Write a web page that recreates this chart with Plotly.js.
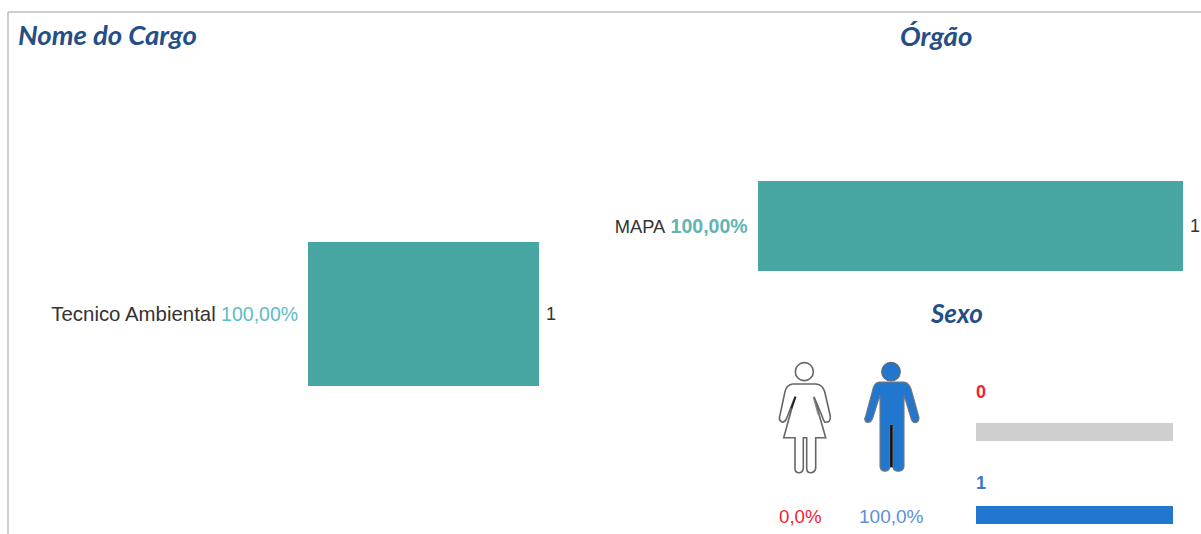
<!DOCTYPE html>
<html><head><meta charset="utf-8">
<script src="https://cdn.plot.ly/plotly-3.0.1.min.js"></script>
<style>html,body{margin:0;padding:0;background:#fff;overflow:hidden}#c{width:1201px;height:534px}</style>
</head><body><div id="c"></div>
<script>
const W = 1201, H = 534;
const cargoCats = ['Tecnico Ambiental'];
const cargoPct = ['100,00%'];
const cargoVals = [1];
const orgaoCats = ['MAPA'];
const orgaoPct = ['100,00%'];
const orgaoVals = [1];
const sexoCats = ['Feminino', 'Masculino'];
const sexoVals = [0, 1];
const sexoPct = ['0,0%', '100,0%'];
const sexoTrack = [1, 1];

const px = (v, total) => v / total;
const dx = (a, b) => [px(a, W), px(b, W)];
const dy = (top, bottom) => [1 - px(bottom, H), 1 - px(top, H)];
const teal = '#47A5A2', blue = '#2176CE', gray = '#CFCFCF', red = '#F5212F', navy = '#234E86';
const base = 'Liberation Sans, Arial, sans-serif';

const data = [
  {type: 'bar', orientation: 'h', y: cargoCats.map((c, i) => `<span style="font-size:20.4px">${c}</span> <span style="color:#5DBCC6">${cargoPct[i]}</span>`),
   x: cargoVals, marker: {color: teal}, width: 1, xaxis: 'x', yaxis: 'y', hoverinfo: 'skip'},
  {type: 'bar', orientation: 'h', y: orgaoCats.map((c, i) => `<span style="font-size:18.3px">${c}</span> <b style="color:#62B4B3">${orgaoPct[i]}</b>`),
   x: orgaoVals, marker: {color: teal}, width: 1, xaxis: 'x2', yaxis: 'y2', hoverinfo: 'skip'},
  {type: 'bar', orientation: 'h', y: sexoCats, x: sexoTrack, marker: {color: gray}, width: 0.217,
   xaxis: 'x3', yaxis: 'y3', hoverinfo: 'skip'},
  {type: 'bar', orientation: 'h', y: sexoCats, x: sexoVals, marker: {color: blue}, width: 0.217,
   xaxis: 'x3', yaxis: 'y3', hoverinfo: 'skip'}
];

const hidden = {showgrid: false, zeroline: false, showline: false, ticks: ''};

const Z = (x, y) => `${(750 + x / 3).toFixed(1)},${(340 + y / 3).toFixed(1)}`;
const P = pts => pts.map((p, i) => {
  if (p.length === 2) return (i ? 'L' : 'M') + Z(p[0], p[1]);
  return 'Q' + Z(p[0], p[1]) + ' ' + Z(p[2], p[3]);
}).join(' ') + ' Z';
const circle = (cx, cy, r) => ({type: 'circle', xref: 'x4', yref: 'y4', x0: 750 + (cx - r) / 3, x1: 750 + (cx + r) / 3, y0: 340 + (cy - r) / 3, y1: 340 + (cy + r) / 3});
const femaleBody = [[128,132],[198,132],[218,134,224,155],[241,228],[243,248,225,247],[220,242,216,228],[192,170],[227,293],[197,293],[197,385],[194,398,182,398],[170,398,170,385],[170,293],[160,293],[160,385],[158,398,147,398],[135,398,135,385],[135,293],[101,293],[135,170],[110,235],[105,248,96,246],[84,240,90,225],[105,155],[110,134,128,132]];
const maleBody = [[388,126],[462,126],[478,128,484,150],[507,232],[508,248,493,248],[485,245,482,232],[462,165],[462,380],[460,394,445,394],[430,394,428,380],[428,255],[420,255],[420,380],[418,394,405,394],[392,394,390,380],[390,165],[368,235],[362,250,350,247],[340,240,347,228],[368,150],[372,128,388,126]];

const shapes = [
  {type: 'line', xref: 'x4', yref: 'y4', x0: 8, x1: 1201, y0: 12, y1: 12, line: {color: '#BEBEBE', width: 1.5}},
  {type: 'line', xref: 'x4', yref: 'y4', x0: 8, x1: 8, y0: 12, y1: 534, line: {color: '#BEBEBE', width: 1.5}},
  {...circle(163, 95, 27), fillcolor: '#fff', line: {color: '#666', width: 1.6}},
  {type: 'path', xref: 'x4', yref: 'y4', path: P(femaleBody), fillcolor: '#fff', line: {color: '#666', width: 1.6}},
  {type: 'line', xref: 'x4', yref: 'y4', x0: 750 + 137 / 3, y0: 340 + 170 / 3, x1: 750 + 124 / 3, y1: 340 + 205 / 3, line: {color: '#222', width: 1.8}},
  {type: 'line', xref: 'x4', yref: 'y4', x0: 750 + 190 / 3, y0: 340 + 172 / 3, x1: 750 + 205 / 3, y1: 340 + 225 / 3, line: {color: '#888', width: 1.2}},
  {...circle(423, 95, 28), fillcolor: blue, line: {color: '#666', width: 1.1}},
  {type: 'path', xref: 'x4', yref: 'y4', path: P(maleBody), fillcolor: blue, line: {color: '#777', width: 1.1}},
  {type: 'line', xref: 'x4', yref: 'y4', x0: 750 + 424 / 3, y0: 340 + 255 / 3, x1: 750 + 424 / 3, y1: 340 + 382 / 3, line: {color: '#111', width: 2.5}}
];

const note = (x, y, text, size, color, family, extra) => Object.assign({
  xref: 'x4', yref: 'y4', x, y, text, showarrow: false, xanchor: 'center', yanchor: 'middle',
  font: {size, color, family}
}, extra || {});
const titleFont = 'Lato, Carlito, sans-serif';
const annotations = [
  note(16, 34, '<b><i>Nome do Cargo</i></b>', 27.5, navy, titleFont, {xanchor: 'left'}),
  note(936, 35, '<b><i>Órgão</i></b>', 27.5, navy, titleFont),
  note(956, 313, '<b><i>Sexo</i></b>', 26, navy, titleFont),
  note(800.5, 516, sexoPct[0], 18.7, red, base),
  note(891.5, 516, sexoPct[1], 19, '#5B8FD6', base),
  note(976, 392, '<b>' + sexoVals[0] + '</b>', 18, red, base, {xanchor: 'left', xshift: -2}),
  note(976, 483, '<b>' + sexoVals[1] + '</b>', 18, '#3B78C8', base, {xanchor: 'left', xshift: -2}),
  {xref: 'x', yref: 'y', x: cargoVals[0], y: data[0].y[0], text: String(cargoVals[0]), showarrow: false, xanchor: 'left', xshift: 5, font: {size: 18, color: '#333', family: base}},
  {xref: 'x2', yref: 'y2', x: orgaoVals[0], y: data[1].y[0], text: String(orgaoVals[0]), showarrow: false, xanchor: 'left', xshift: 5, font: {size: 18, color: '#333', family: base}}
];

const layout = {
  width: W, height: H, margin: {l: 0, r: 0, t: 0, b: 0},
  paper_bgcolor: '#fff', plot_bgcolor: 'rgba(0,0,0,0)', showlegend: false, barmode: 'overlay', bargap: 0,
  xaxis: {...hidden, domain: dx(308, 539), range: [0, 1], showticklabels: false, anchor: 'y'},
  yaxis: {...hidden, domain: dy(242, 386), range: [-0.5, 0.5], type: 'category', tickfont: {size: 19.5, color: '#333', family: base}, ticklen: 5, ticks: 'outside', tickcolor: 'rgba(0,0,0,0)', anchor: 'x'},
  xaxis2: {...hidden, domain: dx(757.5, 1183), range: [0, 1], showticklabels: false, anchor: 'y2'},
  yaxis2: {...hidden, domain: dy(181, 271), range: [-0.5, 0.5], type: 'category', tickfont: {size: 19.5, color: '#333', family: base}, ticklen: 5, ticks: 'outside', tickcolor: 'rgba(0,0,0,0)', anchor: 'x2'},
  xaxis3: {...hidden, domain: dx(976, 1173), range: [0, 1], showticklabels: false, anchor: 'y3'},
  yaxis3: {...hidden, domain: dy(423, 524), range: [1.108, -0.108], type: 'category', showticklabels: false, anchor: 'x3'},
  xaxis4: {...hidden, domain: [0, 1], range: [0, W], showticklabels: false, anchor: 'y4', fixedrange: true},
  yaxis4: {...hidden, domain: [0, 1], range: [H, 0], showticklabels: false, anchor: 'x4', fixedrange: true},
  shapes, annotations
};
data.push({type: 'scatter', mode: 'none', x: [0], y: [0], xaxis: 'x4', yaxis: 'y4', hoverinfo: 'skip'});
Plotly.newPlot('c', data, layout, {displayModeBar: false, staticPlot: true});
</script></body></html>
